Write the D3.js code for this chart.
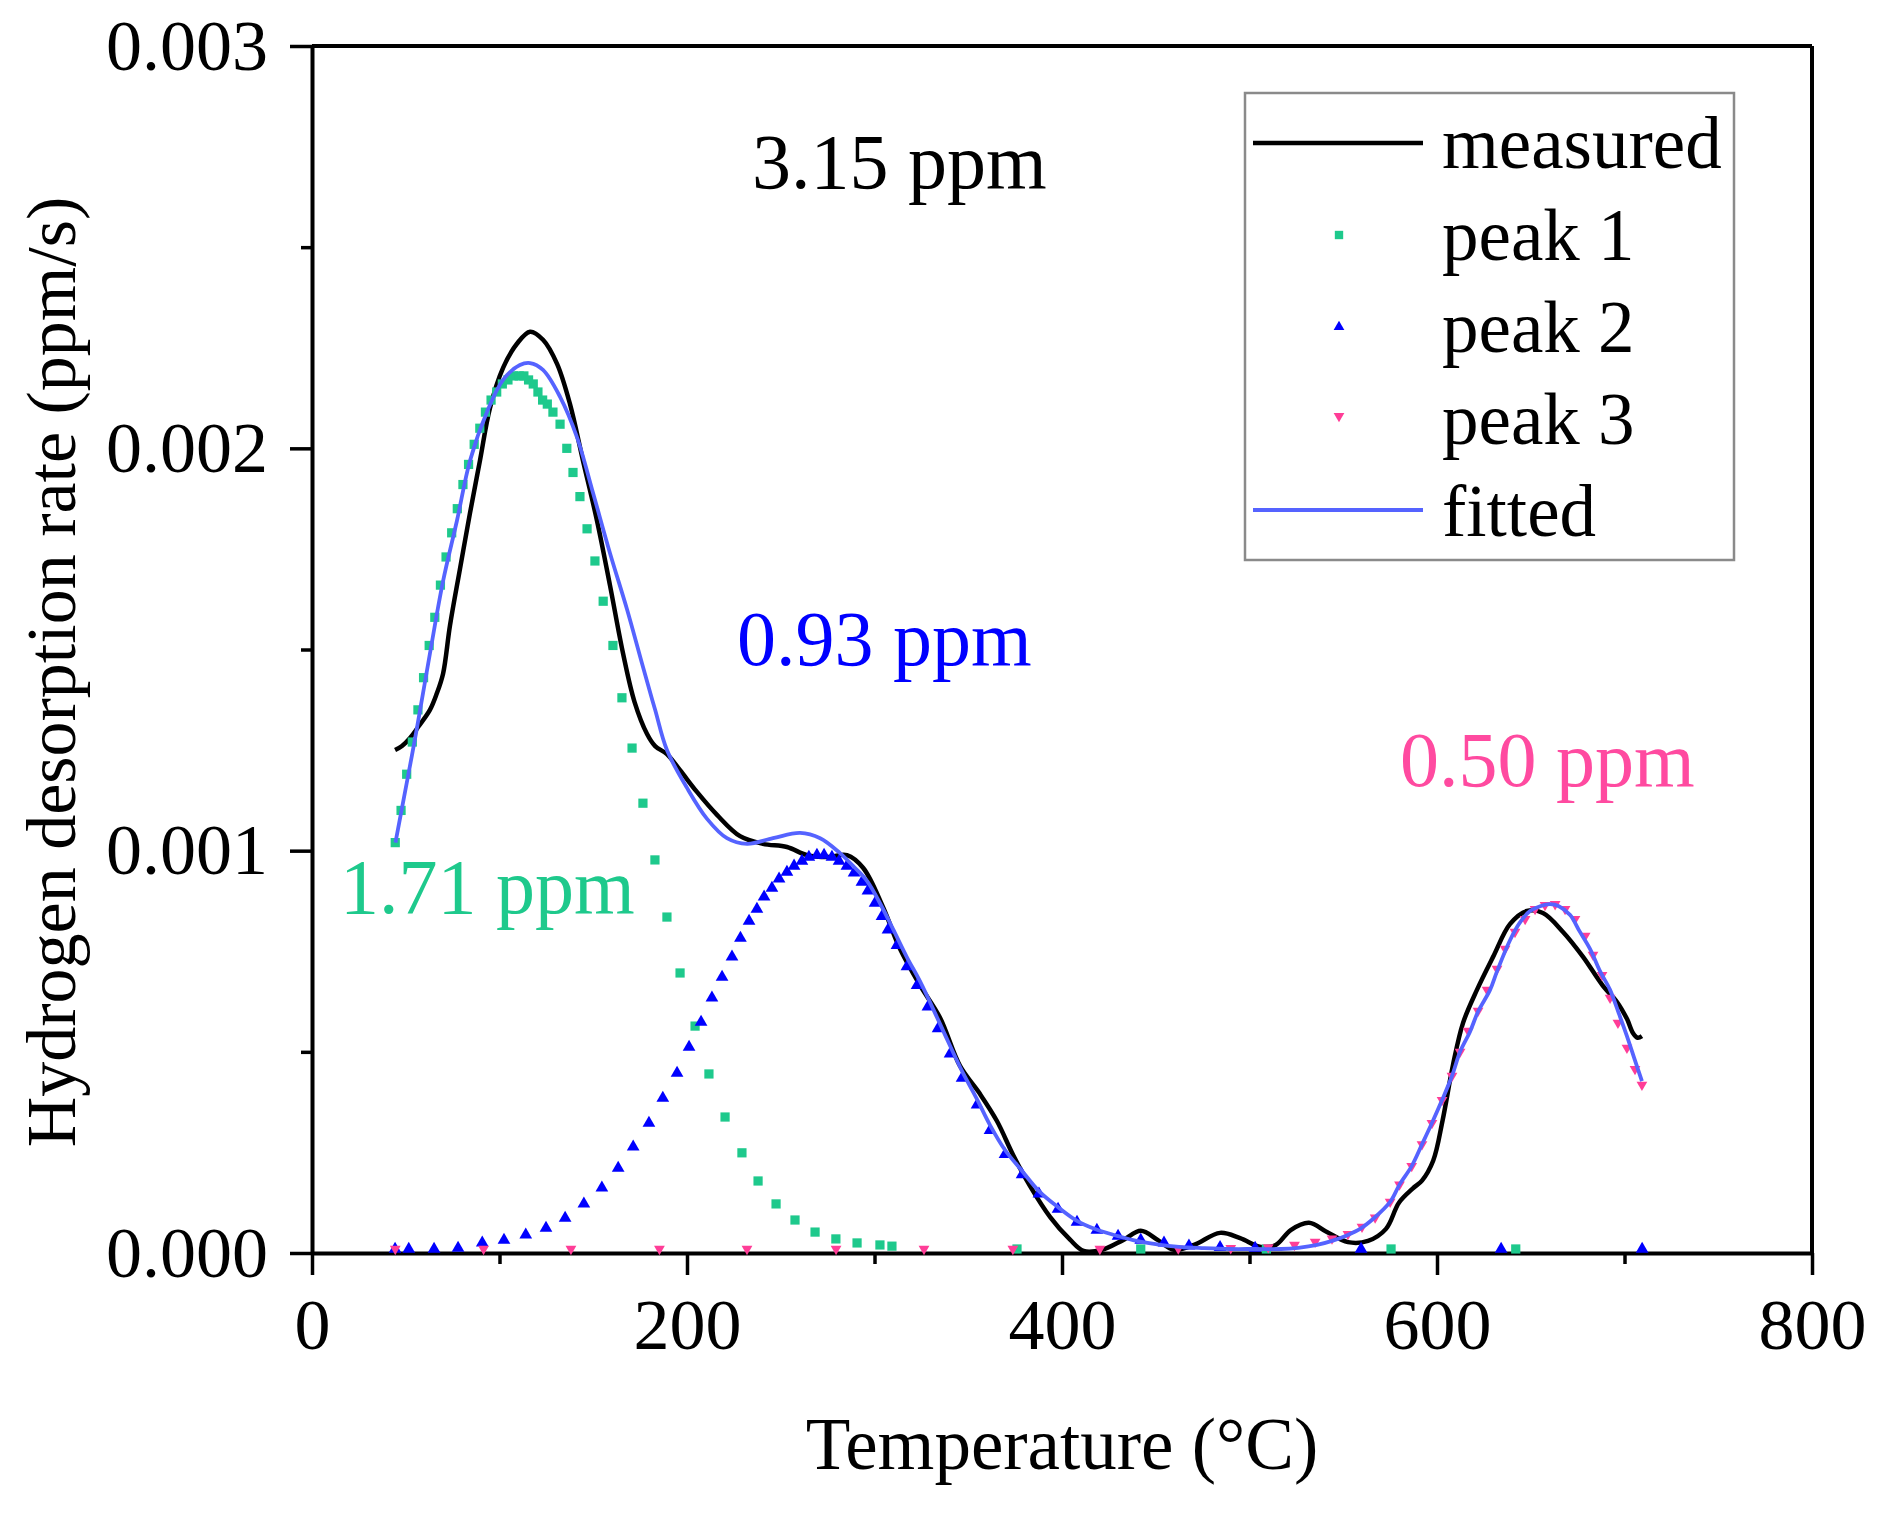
<!DOCTYPE html>
<html><head><meta charset="utf-8">
<script src="https://cdn.jsdelivr.net/npm/d3@7"></script>
<style>body{margin:0;background:#fff} svg{display:block}</style>
</head><body>
<svg id="chart" width="1880" height="1513"></svg>
<script>
// ---------------- data ----------------
const xTickValues = [0, 200, 400, 600, 800];
const xMinorTicks = [100, 300, 500, 700];
const yTickValues = [0, 0.001, 0.002, 0.003];
const yTickLabels = ["0.000", "0.001", "0.002", "0.003"];
const yMinorTicks = [0.0005, 0.0015, 0.0025];

const measuredTemp = [44.3,48,52.3,57,62.9,66.5,69.9,73.6,78.9,84.3,89.6,94.9,101.9,109.3,116.3,123.2,130.7,137.6,144.5,152,158.9,165.9,172,178.7,183,189.3,196.3,205.3,216,228.3,240.5,253.3,264,274.7,285.3,294,304.5,313.6,324.3,334.9,345.6,356.3,365.3,374,382.9,393.6,404.3,411.5,421.4,432.5,442,451.2,459.7,470.4,484.3,495,506,514,522,531.7,541.3,552.5,563.2,572.8,579.7,587,592,598,603,608.5,613.9,621.3,629.9,639,648,656.5,667.2,677.9,688.5,696,701.3,704.5,707,709.3];
const measuredRate = [0.00125,0.00126,0.00128,0.00131,0.00135,0.00139,0.00144,0.00156,0.0017,0.00184,0.00197,0.0021,0.0022,0.00226,0.00229,0.00227,0.00221,0.00211,0.00197,0.00182,0.00166,0.00149,0.00137,0.00129,0.00126,0.00124,0.0012,0.001146,0.001089,0.001036,0.001017,0.001009,0.000989,0.000984,0.000989,0.000957,0.00086,0.000756,0.000665,0.000585,0.000465,0.000395,0.000328,0.000243,0.000167,0.00009,0.000033,0.000005,0.000008,0.000032,0.000055,0.000032,0.000008,0.00002,0.00005,0.000037,0.000015,0.00002,0.000057,0.000075,0.000052,0.000027,0.00003,0.00006,0.000125,0.00016,0.00018,0.00023,0.00033,0.000467,0.000572,0.000654,0.000736,0.000818,0.00085,0.000845,0.000798,0.000736,0.000664,0.000624,0.000582,0.000547,0.000535,0.000539];

const peak1Temp = [44.4,47.5,50.5,53.5,56.5,59.5,62.5,65.5,68.5,71.5,74.5,77.5,80.5,83.5,86.5,89.5,92.5,95.5,98.5,101.5,104.5,107.5,110.5,113,115.5,118,120.5,123,125.5,128.5,132.3,135.9,139.2,142.9,146.7,150.9,155.3,160.5,165.3,170.7,176.5,182.9,189.3,196.3,204.3,211.7,220.3,229.3,237.9,247.5,257.6,268.3,279.4,290.7,302.9,309.3,376,442,509,575.5,642];
const peak1Rate = [0.00102,0.0011,0.00119,0.00127,0.00135,0.00143,0.00151,0.00158,0.00166,0.00173,0.00179,0.00185,0.00191,0.00196,0.00201,0.00205,0.00209,0.00212,0.00214,0.00216,0.00217,0.00218,0.00218,0.00218,0.00217,0.00216,0.00214,0.00212,0.00211,0.00209,0.00206,0.002,0.00194,0.00188,0.0018,0.00172,0.00162,0.00151,0.00138,0.001255,0.001118,0.000977,0.000835,0.000696,0.000564,0.000445,0.000338,0.000249,0.000179,0.000122,0.000082,0.000052,0.000035,0.000025,0.00002,0.000017,0.00001,0.00001,0.00001,0.00001,0.00001];

const peak2Temp = [44.3,51.6,65.1,77.9,90.8,102.4,114,124.8,135,145,154.6,163.3,171.3,179.7,187.1,194.7,201.1,207.5,213.3,218.7,224,228.5,233.1,237.3,241.1,245.3,249.1,253.3,257.1,261.3,265,269.3,273.1,277.3,281.1,285.3,289.1,293.3,296.5,300.3,304,307.2,312,317.3,322.7,328.5,333.9,340.3,346.7,354.7,361.6,369.6,378.7,387.7,397.9,408,418.6,429.9,442,454.4,467.7,484.3,503,559.5,634.2,709.4];
const peak2Rate = [0.00001,0.00001,0.00001,0.000012,0.000025,0.000032,0.000045,0.000062,0.000087,0.000122,0.000162,0.000211,0.000264,0.000323,0.000385,0.000447,0.000512,0.000574,0.000634,0.000686,0.000736,0.000783,0.000825,0.000855,0.000885,0.000907,0.00093,0.000947,0.000962,0.000974,0.000984,0.000989,0.000989,0.000984,0.000974,0.000962,0.000945,0.000922,0.0009,0.00087,0.000837,0.000803,0.000765,0.000712,0.000665,0.000612,0.000558,0.000495,0.000435,0.000368,0.000305,0.000245,0.000195,0.000147,0.000109,0.000077,0.000057,0.000042,0.000032,0.000025,0.000018,0.000014,0.000012,0.00001,0.00001,0.00001];

const peak3Temp = [44.4,91.5,138.1,185.3,232,279.5,326.4,373.8,420.2,462,490,510,524,535,544,552.5,560,567,575,580,586.5,592,597.3,602.7,608,612.3,616.6,621.9,626.7,632,636.3,641.6,647,652.3,657.6,663,668.3,673.6,679,683.2,688,692.3,696.5,701.3,705.6,709.3];
const peak3Rate = [0.00001,0.00001,0.00001,0.00001,0.00001,0.00001,0.00001,0.00001,0.00001,0.000011,0.000012,0.000014,0.00002,0.000028,0.000036,0.000047,0.000065,0.000088,0.000127,0.00017,0.000216,0.00027,0.000323,0.00038,0.00044,0.0005,0.000552,0.000602,0.000654,0.000706,0.000756,0.000798,0.00083,0.000855,0.000865,0.000867,0.000855,0.00083,0.000788,0.000741,0.000691,0.000634,0.000572,0.00051,0.000457,0.000418];

const fittedTemp = [44.5,51,55.8,62.9,69.9,77.3,84.3,93.3,101.9,110.9,116.3,123.2,132.3,141.3,149.9,158.9,168,176.5,183,189.3,200,210.7,221.3,232,245.9,260.3,271,281.6,289,296,304,309.9,317.3,324.3,333.9,340.3,346.7,354.7,361.6,369.6,378.7,387.7,397.9,408,418,429.9,437.9,450,462.4,476,489.6,503,516.8,526,536,544,552.5,559,566,575,580,586.5,592,597.3,602.7,608,612.3,617.6,621.9,628.3,632,639,644,649.6,655,660.3,665,671,676,681.6,687,692.3,697,701.3,705.5,709.3];
const fittedRate = [0.00102,0.00118,0.0013,0.00149,0.00167,0.00182,0.00197,0.00209,0.00217,0.002207,0.002212,0.002195,0.002128,0.002028,0.001889,0.00174,0.0016,0.001457,0.00135,0.00125,0.001156,0.001079,0.001031,0.001017,0.001031,0.001044,0.001031,0.000994,0.00096,0.000925,0.00086,0.000805,0.000735,0.000675,0.00058,0.000515,0.000452,0.000382,0.000318,0.000256,0.000204,0.000154,0.000114,0.00008,0.000059,0.000042,0.000032,0.000022,0.000015,0.000012,0.00001,0.00001,0.00001,0.000013,0.00002,0.00003,0.000045,0.00006,0.000085,0.000127,0.00017,0.000216,0.00027,0.000323,0.00038,0.00044,0.0005,0.00055,0.0006,0.000654,0.0007,0.000778,0.00082,0.00085,0.000862,0.000867,0.000862,0.00084,0.0008,0.000756,0.0007,0.000654,0.000595,0.000539,0.00048,0.000427];

const legendLabels = ["measured", "peak 1", "peak 2", "peak 3", "fitted"];
const annotations = [
  {text: "3.15 ppm", color: "#000000"},
  {text: "1.71 ppm", color: "#1ec98c"},
  {text: "0.93 ppm", color: "#0000ff"},
  {text: "0.50 ppm", color: "#ff4aa0"}
];

// ---------------- drawing ----------------
const FONT = "'Liberation Serif','Times New Roman',serif";
const svg = d3.select("#chart");
const pLeft = 312, pRight = 1812, pTop = 46, pBottom = 1253;
const x = d3.scaleLinear().domain([0, 800]).range([pLeft, pRight]);
const y = d3.scaleLinear().domain([0, 0.003]).range([pBottom, pTop]);

const COL_GREEN = "#1ec98c", COL_BLUE = "#0000ff", COL_PINK = "#ff3d97", COL_FIT = "#5563ff";

// frame (top and right)
svg.append("line").attr("x1", pLeft).attr("x2", pRight).attr("y1", pTop).attr("y2", pTop)
  .attr("stroke", "#000").attr("stroke-width", 4);
svg.append("line").attr("x1", pRight).attr("x2", pRight).attr("y1", pTop).attr("y2", pBottom)
  .attr("stroke", "#000").attr("stroke-width", 4);

// x axis
const gx = svg.append("g").attr("transform", `translate(0,${pBottom})`);
gx.call(d3.axisBottom(x).tickValues(xTickValues).tickSize(22).tickSizeOuter(0).tickPadding(23).tickFormat(d3.format("d")));
const gxm = svg.append("g").attr("transform", `translate(0,${pBottom})`);
gxm.call(d3.axisBottom(x).tickValues(xMinorTicks).tickSize(11).tickSizeOuter(0).tickFormat(""));
gxm.select(".domain").remove();

// y axis
const gy = svg.append("g").attr("transform", `translate(${pLeft},0)`);
gy.call(d3.axisLeft(y).tickValues(yTickValues).tickSize(22).tickSizeOuter(0).tickPadding(22)
  .tickFormat((d, i) => yTickLabels[i]));
const gym = svg.append("g").attr("transform", `translate(${pLeft},0)`);
gym.call(d3.axisLeft(y).tickValues(yMinorTicks).tickSize(11).tickSizeOuter(0).tickFormat(""));
gym.select(".domain").remove();

svg.selectAll(".domain").attr("stroke", "#000").attr("stroke-width", 4);
svg.selectAll(".tick line").attr("stroke", "#000").attr("stroke-width", 3.5);
svg.selectAll(".tick text").attr("font-family", FONT).attr("font-size", 72).attr("fill", "#000");

// axis titles
svg.append("text").attr("x", (pLeft + pRight) / 2).attr("y", 1469).attr("text-anchor", "middle")
  .attr("font-family", FONT).attr("font-size", 73).text("Temperature (°C)");
svg.append("text").attr("transform", "translate(75,672) rotate(-90)").attr("text-anchor", "middle")
  .attr("font-family", FONT).attr("font-size", 70).text("Hydrogen desorption rate (ppm/s)");

const zip = (a, b) => a.map((t, i) => [t, b[i]]);

// measured
const line = d3.line().x(d => x(d[0])).y(d => y(d[1])).curve(d3.curveCatmullRom.alpha(0.5));
svg.append("path").datum(zip(measuredTemp, measuredRate)).attr("d", line)
  .attr("fill", "none").attr("stroke", "#000").attr("stroke-width", 4.5).attr("stroke-linejoin", "round");

// peaks
const sq = d3.symbol().type(d3.symbolSquare).size(85);
const tri = d3.symbol().type(d3.symbolTriangle).size(70);
const triSmall = d3.symbol().type(d3.symbolTriangle).size(50);

svg.append("g").selectAll("path").data(zip(peak1Temp, peak1Rate)).join("path")
  .attr("d", sq).attr("fill", COL_GREEN)
  .attr("transform", d => `translate(${x(d[0])},${y(d[1])})`);
svg.append("g").selectAll("path").data(zip(peak2Temp, peak2Rate)).join("path")
  .attr("d", tri).attr("fill", COL_BLUE)
  .attr("transform", d => `translate(${x(d[0])},${y(d[1])})`);
svg.append("g").selectAll("path").data(zip(peak3Temp, peak3Rate)).join("path")
  .attr("d", triSmall).attr("fill", COL_PINK)
  .attr("transform", d => `translate(${x(d[0])},${y(d[1])}) rotate(180)`);

// fitted
svg.append("path").datum(zip(fittedTemp, fittedRate)).attr("d", line)
  .attr("fill", "none").attr("stroke", COL_FIT).attr("stroke-width", 3.8).attr("stroke-linejoin", "round");

// annotations
const annPos = [[752, 188], [340, 913], [737, 665], [1400, 786]];
svg.append("g").selectAll("text").data(annotations).join("text")
  .attr("x", (d, i) => annPos[i][0]).attr("y", (d, i) => annPos[i][1])
  .attr("font-family", FONT).attr("font-size", 78).attr("fill", d => d.color).text(d => d.text);

// legend
const lg = svg.append("g");
lg.append("rect").attr("x", 1245).attr("y", 93).attr("width", 489).attr("height", 467)
  .attr("fill", "#fff").attr("stroke", "#8a8a8a").attr("stroke-width", 2.5);
const rowY = i => 143 + i * 92;
lg.append("line").attr("x1", 1253).attr("x2", 1423).attr("y1", rowY(0)).attr("y2", rowY(0))
  .attr("stroke", "#000").attr("stroke-width", 4.5);
lg.append("path").attr("d", d3.symbol().type(d3.symbolSquare).size(70)).attr("fill", COL_GREEN)
  .attr("transform", `translate(1339,${rowY(1)})`);
lg.append("path").attr("d", d3.symbol().type(d3.symbolTriangle).size(50)).attr("fill", COL_BLUE)
  .attr("transform", `translate(1339,${rowY(2)})`);
lg.append("path").attr("d", d3.symbol().type(d3.symbolTriangle).size(50)).attr("fill", COL_PINK)
  .attr("transform", `translate(1339,${rowY(3) - 3}) rotate(180)`);
lg.append("line").attr("x1", 1253).attr("x2", 1423).attr("y1", 510).attr("y2", 510)
  .attr("stroke", COL_FIT).attr("stroke-width", 4);
lg.selectAll("text.lab").data(legendLabels).join("text").attr("class", "lab")
  .attr("x", 1442).attr("y", (d, i) => 168 + i * 92)
  .attr("font-family", FONT).attr("font-size", 73).attr("fill", "#000").text(d => d);
</script>
</body></html>
